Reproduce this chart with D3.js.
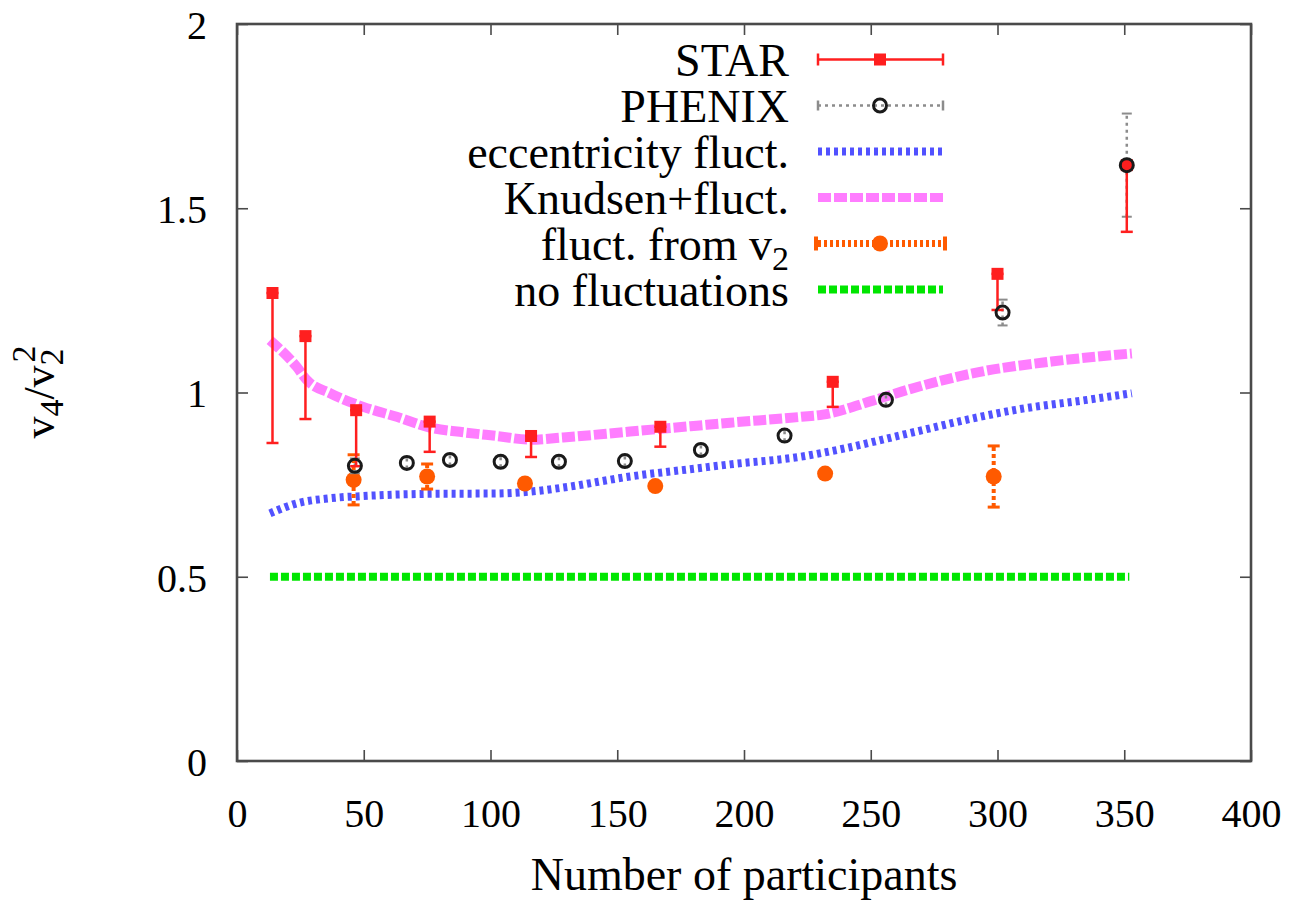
<!DOCTYPE html>
<html>
<head>
<meta charset="utf-8">
<script src="https://cdn.jsdelivr.net/npm/d3@7"></script>
<style>
  html, body { margin: 0; padding: 0; background: #fff; }
  svg { display: block; }
</style>
</head>
<body>
<svg id="chart" width="1299" height="901"></svg>
<script>
// ---------------- data ----------------
const xTicks = [0, 50, 100, 150, 200, 250, 300, 350, 400];
const yTicks = [0, 0.5, 1, 1.5, 2];
const yTickLabels = ["0", "0.5", "1", "1.5", "2"];

// STAR (red squares, asymmetric error bars)
const starX    = [14, 27, 47, 76, 116, 167, 235, 300, 351];
const starY    = [1.27, 1.153, 0.952, 0.921, 0.882, 0.907, 1.029, 1.322, 1.617];
const starLow  = [0.863, 0.928, 0.80, 0.839, 0.825, 0.853, 0.961, 1.224, 1.436];
const starHigh = [1.27, 1.153, 0.952, 0.921, 0.882, 0.907, 1.029, 1.322, 1.617];

// PHENIX (open circles, dotted error bars)
const phenixX   = [46.5, 67, 84, 104, 127, 153, 183, 216, 256, 302, 351];
const phenixY   = [0.801, 0.809, 0.817, 0.812, 0.812, 0.814, 0.844, 0.883, 0.980, 1.217, 1.617];
const phenixErr = [0.02, 0.015, 0.015, 0.015, 0.015, 0.015, 0.015, 0.015, 0.015, 0.035, 0.14];

// eccentricity fluct. (blue dotted curve)
const eccX = [13, 23.5, 36.7, 49.8, 76.1, 102.4, 115.6, 128.7, 155, 181.3, 194.5, 222.6, 236.7, 264.9, 293.1, 307.2, 335.3, 353];
const eccY = [0.672, 0.699, 0.713, 0.719, 0.725, 0.726, 0.731, 0.742, 0.772, 0.794, 0.805, 0.826, 0.844, 0.889, 0.934, 0.953, 0.980, 0.998];

// Knudsen+fluct. (magenta dashed curve)
const knX = [13, 23.5, 27.5, 36.7, 49.8, 63, 76.1, 89.3, 102.4, 115.6, 128.7, 155, 181.3, 194.5, 222.6, 231.1, 250.8, 264.9, 293.1, 321.3, 353];
const knY = [1.142, 1.070, 1.034, 0.998, 0.961, 0.934, 0.905, 0.892, 0.882, 0.872, 0.878, 0.894, 0.910, 0.918, 0.934, 0.940, 0.978, 1.008, 1.056, 1.084, 1.106];

// fluct. from v2 (orange filled circles, dashed error bars)
const flX   = [46, 75, 113.6, 165, 232, 298.5];
const flY   = [0.763, 0.772, 0.753, 0.746, 0.780, 0.772];
const flErr = [0.068, 0.034, 0.008, 0.008, 0.008, 0.083];

// no fluctuations (green dotted line)
const nfX = [13, 352];
const nfY = [0.5, 0.5];

const legendLabels = ["STAR", "PHENIX", "eccentricity fluct.", "Knudsen+fluct.", "fluct. from v", "no fluctuations"];

// ---------------- styles ----------------
const FONT = '"Liberation Serif", "Times New Roman", serif';
const C = {
  star: "#ff1f1f",
  phenixBar: "#8c8c8c",
  ecc: "#3f3fff",
  kn: "#ff7dff",
  fl: "#ff5a00",
  nf: "#00e600",
  axis: "#4a4a4a"
};

const svg = d3.select("#chart");
const M = { left: 237, right: 1251, top: 24, bottom: 761 };
const x = d3.scaleLinear().domain([0, 400]).range([M.left, M.right]);
const y = d3.scaleLinear().domain([0, 2]).range([M.bottom, M.top]);

// ---------------- axes ----------------
const fontTick = 40;
const gx = svg.append("g").attr("transform", `translate(0,${M.bottom})`)
  .call(d3.axisBottom(x).tickValues(xTicks).tickSize(-11).tickPadding(38).tickFormat(d3.format("d")));
const gy = svg.append("g").attr("transform", `translate(${M.left},0)`)
  .call(d3.axisLeft(y).tickValues(yTicks).tickSize(-11).tickPadding(30).tickFormat((d, i) => yTickLabels[i]));
const gxt = svg.append("g").attr("transform", `translate(0,${M.top})`)
  .call(d3.axisTop(x).tickValues(xTicks).tickSize(-11).tickFormat(""));
const gyr = svg.append("g").attr("transform", `translate(${M.right},0)`)
  .call(d3.axisRight(y).tickValues(yTicks).tickSize(-11).tickFormat(""));
[gx, gy, gxt, gyr].forEach(g => {
  g.select(".domain").remove();
  g.selectAll("line").attr("stroke", C.axis).attr("stroke-width", 1.6);
  g.selectAll("text").style("font-family", FONT).style("font-size", fontTick + "px").attr("fill", "#000");
});
gy.selectAll("text").attr("dy", "0.36em");

svg.append("rect")
  .attr("x", M.left).attr("y", M.top)
  .attr("width", M.right - M.left).attr("height", M.bottom - M.top)
  .attr("fill", "none").attr("stroke", C.axis).attr("stroke-width", 2.6);

// axis titles
svg.append("text")
  .attr("x", (M.left + M.right) / 2).attr("y", 890)
  .attr("text-anchor", "middle")
  .style("font-family", FONT).style("font-size", "46px")
  .text("Number of participants");

const yl = svg.append("text")
  .attr("transform", "translate(54,392) rotate(-90)")
  .attr("text-anchor", "middle")
  .style("font-family", FONT).style("font-size", "44px");
yl.append("tspan").text("v");
yl.append("tspan").attr("dy", 9).style("font-size", "34px").text("4");
yl.append("tspan").attr("dy", -9).text("/v");
yl.append("tspan").attr("dy", 9).style("font-size", "34px").text("2");
yl.append("tspan").attr("dx", -14).attr("dy", -28).style("font-size", "34px").text("2");

// ---------------- curves ----------------
const plot = svg.append("g");
const line = d3.line().x(d => x(d[0])).y(d => y(d[1])).curve(d3.curveMonotoneX);

plot.append("path")
  .datum(nfX.map((v, i) => [v, nfY[i]]))
  .attr("d", line).attr("fill", "none")
  .attr("stroke", C.nf).attr("stroke-width", 8).attr("stroke-dasharray", "8 3");

plot.append("path")
  .datum(eccX.map((v, i) => [v, eccY[i]]))
  .attr("d", line).attr("fill", "none")
  .attr("stroke", C.ecc).attr("stroke-width", 8).attr("stroke-dasharray", "4 4").attr("opacity", 0.9);

plot.append("path")
  .datum(knX.map((v, i) => [v, knY[i]]))
  .attr("d", line).attr("fill", "none")
  .attr("stroke", C.kn).attr("stroke-width", 10).attr("stroke-dasharray", "13 3");

// ---------------- fluct. from v2 ----------------
const flG = plot.append("g");
flX.forEach((v, i) => {
  const cx = x(v), y0 = y(flY[i] - flErr[i]), y1 = y(flY[i] + flErr[i]);
  flG.append("line").attr("x1", cx).attr("x2", cx).attr("y1", y0).attr("y2", y1)
    .attr("stroke", C.fl).attr("stroke-width", 4).attr("stroke-dasharray", "4 3");
  [y0, y1].forEach(yy => flG.append("line").attr("x1", cx - 6).attr("x2", cx + 6).attr("y1", yy).attr("y2", yy)
    .attr("stroke", C.fl).attr("stroke-width", 3));
  flG.append("circle").attr("cx", cx).attr("cy", y(flY[i])).attr("r", 8).attr("fill", C.fl);
});

// ---------------- PHENIX bars ----------------
const phG = plot.append("g");
phenixX.forEach((v, i) => {
  const cx = x(v), y0 = y(phenixY[i] - phenixErr[i]), y1 = y(phenixY[i] + phenixErr[i]);
  phG.append("line").attr("x1", cx).attr("x2", cx).attr("y1", y0).attr("y2", y1)
    .attr("stroke", C.phenixBar).attr("stroke-width", 2.5).attr("stroke-dasharray", "3 4");
  [y0, y1].forEach(yy => phG.append("line").attr("x1", cx - 5).attr("x2", cx + 5).attr("y1", yy).attr("y2", yy)
    .attr("stroke", C.phenixBar).attr("stroke-width", 2));
});

// ---------------- STAR ----------------
const stG = plot.append("g");
starX.forEach((v, i) => {
  const cx = x(v), y0 = y(starLow[i]), y1 = y(starHigh[i]);
  stG.append("line").attr("x1", cx).attr("x2", cx).attr("y1", y0).attr("y2", y1)
    .attr("stroke", C.star).attr("stroke-width", 2.5);
  [y0, y1].forEach(yy => stG.append("line").attr("x1", cx - 6).attr("x2", cx + 6).attr("y1", yy).attr("y2", yy)
    .attr("stroke", C.star).attr("stroke-width", 2.5));
  stG.append("rect").attr("x", cx - 6).attr("y", y(starY[i]) - 6).attr("width", 12).attr("height", 12).attr("fill", C.star);
});

// PHENIX circles drawn on top
const phC = plot.append("g");
phenixX.forEach((v, i) => {
  phC.append("circle").attr("cx", x(v)).attr("cy", y(phenixY[i])).attr("r", 6.5)
    .attr("fill", "none").attr("stroke", "#1a1a1a").attr("stroke-width", 3);
});
// last STAR marker overlaps PHENIX; keep the red centre visible
phC.append("rect").attr("x", x(starX[8]) - 4).attr("y", y(starY[8]) - 3).attr("width", 8).attr("height", 6).attr("fill", C.star);

// ---------------- legend ----------------
const lg = svg.append("g");
const rowY0 = 59.5, rowStep = 46;
const sx0 = 818, sx1 = 943, sxm = 880, textX = 789;
legendLabels.forEach((lab, i) => {
  const ry = rowY0 + i * rowStep;
  const t = lg.append("text").attr("x", textX).attr("y", ry + 16.5).attr("text-anchor", "end")
    .style("font-family", FONT).style("font-size", "46px");
  if (i === 4) {
    t.append("tspan").text(lab);
    t.append("tspan").attr("dy", 10).style("font-size", "34px").text("2");
  } else {
    t.text(lab);
  }
  const g = lg.append("g");
  if (i === 0) {
    g.append("line").attr("x1", sx0).attr("x2", sx1).attr("y1", ry).attr("y2", ry).attr("stroke", C.star).attr("stroke-width", 2.5);
    [sx0, sx1].forEach(xx => g.append("line").attr("x1", xx).attr("x2", xx).attr("y1", ry - 6).attr("y2", ry + 6).attr("stroke", C.star).attr("stroke-width", 2.5));
    g.append("rect").attr("x", sxm - 6).attr("y", ry - 6).attr("width", 12).attr("height", 12).attr("fill", C.star);
  } else if (i === 1) {
    g.append("line").attr("x1", sx0).attr("x2", sx1).attr("y1", ry).attr("y2", ry).attr("stroke", C.phenixBar).attr("stroke-width", 2.5).attr("stroke-dasharray", "3 4");
    [sx0, sx1].forEach(xx => g.append("line").attr("x1", xx).attr("x2", xx).attr("y1", ry - 5).attr("y2", ry + 5).attr("stroke", C.phenixBar).attr("stroke-width", 2.5));
    g.append("circle").attr("cx", sxm).attr("cy", ry).attr("r", 6.5).attr("fill", "none").attr("stroke", "#1a1a1a").attr("stroke-width", 3);
  } else if (i === 2) {
    g.append("line").attr("x1", sx0).attr("x2", sx1).attr("y1", ry).attr("y2", ry).attr("stroke", C.ecc).attr("stroke-width", 8).attr("stroke-dasharray", "4 4").attr("opacity", 0.9);
  } else if (i === 3) {
    g.append("line").attr("x1", sx0).attr("x2", sx1).attr("y1", ry).attr("y2", ry).attr("stroke", C.kn).attr("stroke-width", 9).attr("stroke-dasharray", "13 3");
  } else if (i === 4) {
    g.append("line").attr("x1", sx0).attr("x2", sx1).attr("y1", ry).attr("y2", ry).attr("stroke", C.fl).attr("stroke-width", 7).attr("stroke-dasharray", "3 3");
    [sx0 - 2, sx1 + 2].forEach(xx => g.append("line").attr("x1", xx).attr("x2", xx).attr("y1", ry - 7).attr("y2", ry + 7).attr("stroke", C.fl).attr("stroke-width", 4));
    g.append("circle").attr("cx", sxm).attr("cy", ry).attr("r", 8).attr("fill", C.fl);
  } else {
    g.append("line").attr("x1", sx0).attr("x2", sx1).attr("y1", ry).attr("y2", ry).attr("stroke", C.nf).attr("stroke-width", 8).attr("stroke-dasharray", "8 3");
  }
});
</script>
</body>
</html>
